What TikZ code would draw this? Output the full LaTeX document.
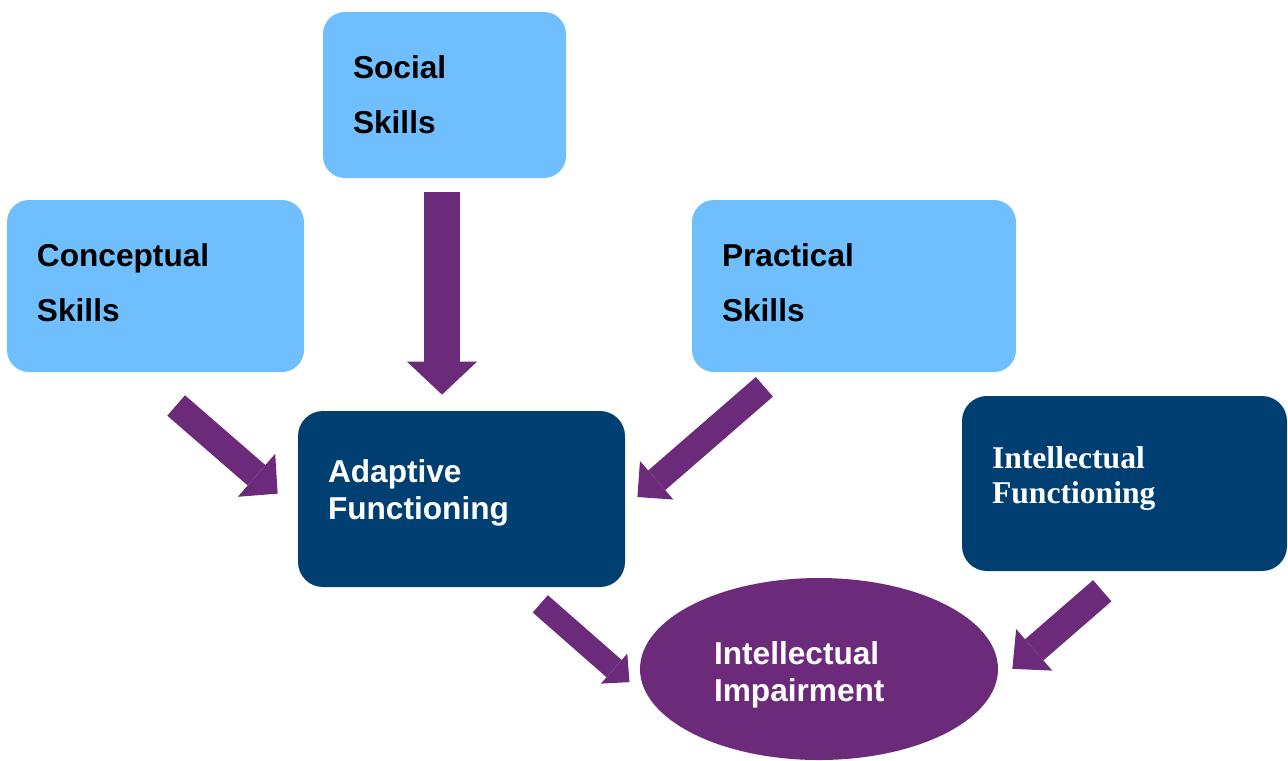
\documentclass[tikz,border=0pt]{standalone}
\usepackage{fontspec}
\setmainfont{Liberation Sans}
\newfontfamily\timesfont{Liberation Serif}
\usepackage{tikz}
\usetikzlibrary{shapes.geometric, arrows.meta}

\definecolor{skyblue}{HTML}{6FBFFF}
\definecolor{navy}{HTML}{003F71}
\definecolor{plum}{HTML}{6C2A7A}

\begin{document}
\begin{tikzpicture}[
    node distance=4cm,
    every node/.style={font=\fontsize{18}{20.8}\selectfont\bfseries},
    skill/.style={rectangle, fill=skyblue, rounded corners=0.44cm, inner xsep=0.6cm, align=left, font=\fontsize{18}{31.3}\selectfont\bfseries},
    navybox/.style={rectangle, fill=navy, text=white, rounded corners=0.5cm, inner xsep=0.6cm, align=left},
    outcome/.style={ellipse, fill=plum, text=white, inner sep=0pt, align=left},
    fatarrow/.style n args={3}{draw=plum, line width=#1, -{Triangle[width=#2, length=#3, line width=0pt]}}
]
\useasboundingbox (0,0) rectangle (25.76,-15.2);

\node (social) [skill, text width=3.66cm, minimum height=3.32cm] at (8.89,-1.9) {Social\\Skills};
\node (concept) [skill, text width=4.74cm, minimum height=3.44cm, text depth=1.24cm, below of=social, xshift=-5.78cm, yshift=0.18cm] {Conceptual\\Skills};
\node (practical) [skill, text width=5.28cm, minimum height=3.44cm, text depth=1.24cm, right of=concept, xshift=9.97cm] {Practical\\Skills};
\node (adaptive) [navybox, text width=5.34cm, minimum height=3.52cm, text depth=1.1cm, below of=social, xshift=0.34cm, yshift=-4.08cm] {Adaptive\\Functioning};
\node (intfunc) [navybox, text width=5.3cm, minimum height=3.5cm, text depth=1.04cm, right of=practical, xshift=1.41cm, yshift=-3.95cm, font=\timesfont\bfseries\fontsize{18}{19.9}\selectfont] {Intellectual\\Functioning};
\node (impair) [outcome, text width=4.2cm, minimum width=7.16cm, minimum height=3.64cm, text depth=0.63cm, right of=adaptive, xshift=3.15cm, yshift=-3.4cm] {Intellectual\\Impairment};

\draw[fatarrow={0.72cm}{1.4cm}{0.66cm}, shorten <=0.28cm, shorten >=0.32cm] ([xshift=-0.05cm]social.south) -- ([xshift=-0.05cm]social.south |- adaptive.north);
\draw[fatarrow={0.54cm}{1.14cm}{0.56cm}, shorten <=1.01cm, shorten >=0.53cm] ([xshift=-0.35cm]concept.south) -- ([yshift=-0.24cm]adaptive.west);
\draw[fatarrow={0.52cm}{1.02cm}{0.51cm}, shorten <=0.44cm, shorten >=0.32cm] ([xshift=-1.46cm]practical.south) -- ([yshift=-0.17cm]adaptive.east);
\draw[fatarrow={0.46cm}{0.8cm}{0.41cm}, shorten <=0.5cm, shorten >=0.27cm] ([xshift=1.2cm]adaptive.south) -- ([yshift=-0.44cm]impair.west);
\draw[fatarrow={0.56cm}{1.1cm}{0.58cm}, shorten <=0.59cm, shorten >=0.37cm] (intfunc.south) -- ([yshift=-0.24cm]impair.east);
\end{tikzpicture}
\end{document}
